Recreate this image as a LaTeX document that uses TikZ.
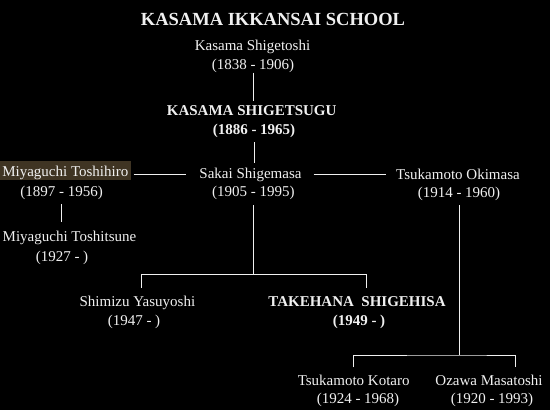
\documentclass[tikz,border=0pt]{standalone}
\usepackage{fontspec}
\setmainfont{Liberation Serif}
\definecolor{hl}{HTML}{3F3423}
\definecolor{fg}{HTML}{F0F0F0}
\tikzset{
  person/.style={font=\fontsize{15}{18}\selectfont, text=fg, inner sep=0pt, text height=11pt, text depth=3pt, anchor=base},
  boldperson/.style={person, font=\fontsize{15}{18}\selectfont\bfseries},
  conn/.style={draw=fg, line width=1pt},
}
\begin{document}
\begin{tikzpicture}[x=1pt,y=-1pt]
\fill[black] (0,0) rectangle (550,410);
\useasboundingbox (0,0) rectangle (550,410);

\node[text=fg, inner sep=0pt, anchor=base, font=\fontsize{18.5}{22}\selectfont\bfseries] (title) at (273,25.3) {KASAMA IKKANSAI SCHOOL};

\node[person] (ks) at (252.5,50) {Kasama Shigetoshi};
\node[person] (ksy) at (253,69.5) {(1838 - 1906)};

\node[boldperson] (ksg) at (251.7,115.7) {KASAMA SHIGETSUGU};
\node[boldperson] (ksgy) at (254,134) {(1886 - 1965)};

\node[person, fill=hl, text height=13.8pt, text depth=1.5pt, inner xsep=2.5pt, inner ysep=2pt] (miy) at (65.3,176.8) {Miyaguchi Toshihiro};
\node[person] (miyy) at (61.7,196) {(1897 - 1956)};

\node[person] (sakai) at (250.5,178.6) {Sakai Shigemasa};
\node[person] (sakaiy) at (253.3,196) {(1905 - 1995)};

\node[person] (tsuk) at (458,179.3) {Tsukamoto Okimasa};
\node[person] (tsuky) at (459,197.9) {(1914 - 1960)};

\node[person] (miyt) at (69.5,241.7) {Miyaguchi Toshitsune};
\node[person] (miyty) at (62,261) {(1927 - )};

\node[person] (shim) at (137.4,306.8) {Shimizu Yasuyoshi};
\node[person] (shimy) at (134,325.4) {(1947 - )};

\node[boldperson] (take) at (357,306.8) {TAKEHANA\ \ SHIGEHISA};
\node[boldperson] (takey) at (359,325.4) {(1949 - )};

\node[person] (kot) at (353.7,385) {Tsukamoto Kotaro};
\node[person] (koty) at (358,403.3) {(1924 - 1968)};

\node[person] (oza) at (489,385) {Ozawa Masatoshi};
\node[person] (ozay) at (492,403.3) {(1920 - 1993)};

\coordinate (b1) at (253.3,274.2);
\coordinate (b2) at (459,355);

% connectors
\draw[conn, shorten >=3.5pt] (ksy.south) -- (ksy.south |- ksg.north);
\draw[conn, shorten <=5pt, shorten >=4pt] (ksgy.south) -- (ksgy.south |- sakai.north);
\draw[conn, shorten <=2.5pt, shorten >=13.5pt] (miy.east |- sakai.west) -- (sakai.west);
\draw[conn, shorten <=12pt, shorten >=10pt] (sakai.east) -- (tsuk.west |- sakai.east);
\draw[conn, shorten <=5pt, shorten >=8.3pt] (miyy.south) -- (miyy.south |- miyt.north);
\draw[conn, shorten <=6pt] (sakaiy.south) -- (b1);
\draw[conn] ([shift={(4pt,7.8pt)}]shim.north) |- (b1) -| ([shift={(9.5pt,7.8pt)}]take.north);
\draw[conn, shorten <=4pt] (tsuky.south) -- (b2);
\draw[conn] ([shift={(-0.7pt,6.5pt)}]kot.north) |- (b2) -| ([shift={(26pt,6.5pt)}]oza.north);
\end{tikzpicture}
\end{document}
